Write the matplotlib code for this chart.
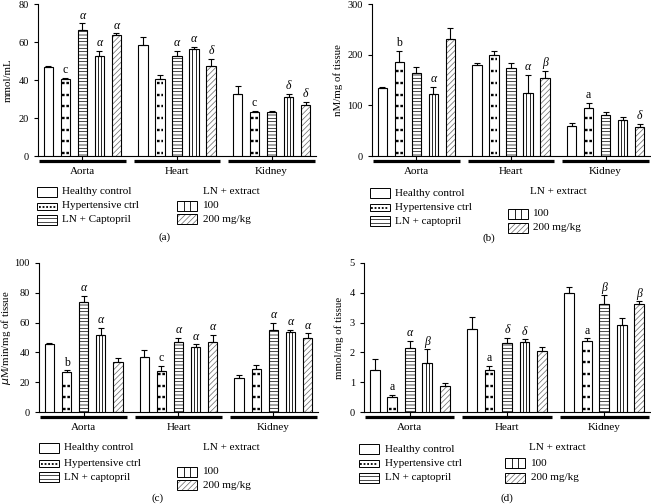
import matplotlib
matplotlib.use("Agg")
import matplotlib.pyplot as plt
import matplotlib.transforms as mtransforms
from matplotlib.patches import Rectangle
from matplotlib.lines import Line2D
import numpy as np

plt.rcParams['font.family'] = ['Liberation Serif', 'DejaVu Serif']
plt.rcParams['hatch.linewidth'] = 0.5

# ---------------- data ----------------
ORGANS = ["Aorta", "Heart", "Kidney"]
TREATMENTS = ["Healthy control", "Hypertensive ctrl", "LN + captopril", "100", "200 mg/kg"]
CAPTO_LABEL_A = "LN + Captopril"
EXTRACT_HEADER = "LN + extract"

# rows = treatments (healthy, hypertensive, captopril, extract 100, extract 200); cols = organs
A_MEANS = [[47.0, 58.2, 32.8], [40.3, 40.7, 23.0], [66.3, 52.4, 23.0], [52.4, 56.4, 31.2], [63.7, 47.4, 26.8]]
A_ERRS = [[0.6, 4.4, 3.8], [1.0, 1.8, 0.6], [3.5, 3.0, 0.6], [3.1, 1.2, 1.6], [0.9, 3.8, 1.6]]
A_SIG = [["", "", ""], ["c", "", "c"], ["α", "α", ""], ["α", "α", "δ"], ["α", "δ", "δ"]]

B_MEANS = [[133.5, 179.5, 60.0], [185.5, 199.0, 94.0], [164.5, 173.0, 81.0], [122.0, 125.0, 71.0], [231.0, 154.0, 58.0]]
B_ERRS = [[2.0, 4.0, 6.0], [22.5, 9.0, 11.0], [10.5, 10.0, 5.0], [15.0, 35.0, 5.0], [21.0, 14.0, 5.0]]
B_SIG = [["", "", ""], ["b", "", "a"], ["", "", ""], ["α", "α", ""], ["", "β", "δ"]]

C_MEANS = [[45.4, 37.0, 23.0], [27.0, 27.6, 28.8], [74.0, 46.7, 55.0], [51.7, 43.6, 53.5], [33.7, 46.7, 50.0]]
C_ERRS = [[0.6, 4.3, 1.7], [1.0, 3.4, 2.7], [4.0, 3.3, 4.8], [4.9, 1.8, 1.5], [2.7, 5.3, 2.8]]
C_SIG = [["", "", ""], ["b", "c", ""], ["α", "α", "α"], ["α", "α", "α"], ["", "α", "α"]]

D_MEANS = [[1.41, 2.80, 3.99], [0.49, 1.41, 2.38], [2.15, 2.31, 3.62], [1.65, 2.35, 2.92], [0.87, 2.04, 3.61]]
D_ERRS = [[0.38, 0.39, 0.20], [0.08, 0.15, 0.09], [0.23, 0.18, 0.29], [0.45, 0.09, 0.25], [0.09, 0.13, 0.10]]
D_SIG = [["", "", ""], ["a", "a", "a"], ["α", "δ", "β"], ["β", "δ", ""], ["", "", "β"]]

A_YTICKS = [0, 20, 40, 60, 80]
B_YTICKS = [0, 100, 200, 300]
C_YTICKS = [0, 20, 40, 60, 80, 100]
D_YTICKS = [0, 1, 2, 3, 4, 5]

YLABELS = ["mmol/mL", "nM/mg of tissue", r"$\mu$M/min/mg of tissue", "mmol/mg of tissue"]
CAPTIONS = ["(a)", "(b)", "(c)", "(d)"]

# ---------------- layout ----------------
W_PX, H_PX = 651, 504
fig = plt.figure(figsize=(W_PX / 100, H_PX / 100), dpi=100)
fig.patch.set_facecolor('white')


def fx(x):
    return x / W_PX


def fy(y):
    return 1 - y / H_PX


PANELS = [
    dict(rect=(38, 316, 4, 156), means=A_MEANS, errs=A_ERRS, sig=A_SIG, yticks=A_YTICKS,
         capto=CAPTO_LABEL_A, lpad=4,
         leg=dict(c1x=37, c1t=62, c1y=[192, 206, 220], c2x=177, c2t=203, c2h=(203, 192), c2y=[206, 219]),
         cap=(165, 237)),
    dict(rect=(372, 650, 4, 156), means=B_MEANS, errs=B_ERRS, sig=B_SIG, yticks=B_YTICKS,
         capto=TREATMENTS[2], lpad=3,
         leg=dict(c1x=370, c1t=395, c1y=[193, 207, 221], c2x=508, c2t=533, c2h=(530, 192), c2y=[214, 228]),
         cap=(489, 238)),
    dict(rect=(39, 318, 263, 412), means=C_MEANS, errs=C_ERRS, sig=C_SIG, yticks=C_YTICKS,
         capto=TREATMENTS[2], lpad=1.5,
         leg=dict(c1x=39, c1t=64, c1y=[448, 463, 477], c2x=177, c2t=203, c2h=(203, 448), c2y=[472, 485]),
         cap=(158, 498)),
    dict(rect=(364, 650, 263, 412), means=D_MEANS, errs=D_ERRS, sig=D_SIG, yticks=D_YTICKS,
         capto=TREATMENTS[2], lpad=4,
         leg=dict(c1x=359, c1t=385, c1y=[449, 463, 478], c2x=505, c2t=531, c2h=(529, 448), c2y=[463, 478]),
         cap=(507, 498)),
]

BAR_W = 0.1
OFFS = [-0.36, -0.18, 0.0, 0.18, 0.36]
FS = 8


def draw_legend(spec, capto_label):
    lw = 0.7
    pw, ph = 20, 10
    # column 1
    labels1 = [TREATMENTS[0], TREATMENTS[1], capto_label]
    for i, (yc, lab) in enumerate(zip(spec['c1y'], labels1)):
        x0 = spec['c1x']
        h = ph if i != 1 else 7
        fig.patches.append(Rectangle((fx(x0), fy(yc + h / 2)), pw / W_PX, h / H_PX,
                                     transform=fig.transFigure, facecolor='white',
                                     edgecolor='black', lw=lw))
        if i == 1:
            fig.lines.append(Line2D([fx(x0 + 1.5), fx(x0 + pw - 1.5)], [fy(yc + 1), fy(yc + 1)],
                                    transform=fig.transFigure, color='black', lw=1.3,
                                    linestyle=(0, (1.0, 1.0))))
        if i == 2:
            for k in (1, 2):
                yy = yc - h / 2 + k * h / 3
                fig.lines.append(Line2D([fx(x0), fx(x0 + pw)], [fy(yy), fy(yy)],
                                        transform=fig.transFigure, color='black', lw=0.5))
        fig.text(fx(spec['c1t']), fy(yc), lab, fontsize=FS, va='center', ha='left')
    # column 2
    hx, hy = spec['c2h']
    fig.text(fx(hx), fy(hy), EXTRACT_HEADER, fontsize=FS, va='center', ha='left')
    for i, (yc, lab) in enumerate(zip(spec['c2y'], [TREATMENTS[3], TREATMENTS[4]])):
        x0 = spec['c2x']
        if i == 0:
            fig.patches.append(Rectangle((fx(x0), fy(yc + ph / 2)), pw / W_PX, ph / H_PX,
                                         transform=fig.transFigure, facecolor='white',
                                         edgecolor='black', lw=lw))
            for k in (1, 2):
                xx = x0 + k * pw / 3
                fig.lines.append(Line2D([fx(xx), fx(xx)], [fy(yc - ph / 2), fy(yc + ph / 2)],
                                        transform=fig.transFigure, color='black', lw=0.6))
        else:
            fig.patches.append(Rectangle((fx(x0), fy(yc + ph / 2)), pw / W_PX, ph / H_PX,
                                         transform=fig.transFigure, facecolor='white',
                                         edgecolor='#666666', lw=0, hatch='//////'))
            fig.patches.append(Rectangle((fx(x0), fy(yc + ph / 2)), pw / W_PX, ph / H_PX,
                                         transform=fig.transFigure, facecolor='none',
                                         edgecolor='black', lw=lw))
        fig.text(fx(spec['c2t']), fy(yc), lab, fontsize=FS, va='center', ha='left')


for pi, p in enumerate(PANELS):
    l, r, t, b = p['rect']
    ax = fig.add_axes([fx(l), fy(b), (r - l) / W_PX, (b - t) / H_PX])
    ymax = p['yticks'][-1]
    ax.set_xlim(-0.47, 2.47)
    ax.set_ylim(0, ymax)
    axh_px = b - t
    u_per_px = ymax / axh_px
    xg = np.arange(len(ORGANS))
    for ti in range(5):
        xs = xg + OFFS[ti]
        vals = np.array(p['means'][ti])
        errs = np.array(p['errs'][ti])
        if ti == 4:
            ax.bar(xs, vals, BAR_W, color='white', edgecolor='#666666', lw=0,
                   hatch='//////', zorder=2)
            ax.bar(xs, vals, BAR_W, facecolor='none', edgecolor='black', lw=0.8, zorder=3)
        elif ti == 2:
            ax.bar(xs, vals, BAR_W, color='white', edgecolor='black', lw=0.8,
                   hatch='-----', zorder=3)
        else:
            ax.bar(xs, vals, BAR_W, color='white', edgecolor='black', lw=0.8, zorder=3)
        if ti == 1:
            for x, v in zip(xs, vals):
                ypx = 3.0
                while ypx < v / u_per_px - 3:
                    ax.plot([x - 0.034, x + 0.034], [ypx * u_per_px] * 2, color='black',
                            lw=1.7, linestyle=(0, (1.1, 0.75)), zorder=4,
                            solid_capstyle='butt', dash_capstyle='butt')
                    ypx += 11.7
        if ti == 3:
            for x, v in zip(xs, vals):
                for dx in (-BAR_W / 6, BAR_W / 6):
                    ax.plot([x + dx, x + dx], [0, v], color='black', lw=0.6, zorder=4)
        ax.errorbar(xs, vals, yerr=[np.zeros_like(errs), errs], fmt='none', ecolor='black',
                    elinewidth=0.8, capsize=2.3, capthick=0.8, zorder=5)
        for oi in range(len(ORGANS)):
            s = p['sig'][ti][oi]
            if s:
                greek = s in "αβδ"
                ax.annotate(s, (xs[oi], vals[oi] + errs[oi]), xytext=(0, 1.2),
                            textcoords='offset points', ha='center', va='bottom',
                            fontsize=8.5, fontstyle='italic' if greek else 'normal', zorder=6)
    # axes styling
    for side in ('top', 'right'):
        ax.spines[side].set_visible(False)
    for side in ('left', 'bottom'):
        ax.spines[side].set_linewidth(0.8)
    ax.set_yticks(p['yticks'])
    ax.set_xticks(xg)
    ax.set_xticklabels([])
    ax.tick_params(axis='both', direction='out', length=3, width=0.8, labelsize=7.5)
    ax.set_ylabel(YLABELS[pi], fontsize=7.8, labelpad=p['lpad'])
    # group underlines and labels
    trans = mtransforms.blended_transform_factory(ax.transData, ax.transAxes)
    tline = trans + mtransforms.ScaledTranslation(0, -5 / 100, fig.dpi_scale_trans)
    tlab = trans + mtransforms.ScaledTranslation(0, -15 / 100, fig.dpi_scale_trans)
    for gi, name in enumerate(ORGANS):
        ax.plot([gi - 0.46, gi + 0.46], [0, 0], transform=tline, color='black', lw=2.3,
                solid_capstyle='butt', clip_on=False)
        ax.text(gi, 0, name, transform=tlab, ha='center', va='center', fontsize=FS)
    draw_legend(p['leg'], p['capto'])
    fig.text(fx(p['cap'][0]), fy(p['cap'][1]), CAPTIONS[pi], fontsize=FS, ha='center', va='center')

fig.savefig("out.png", dpi=100, facecolor='white')
